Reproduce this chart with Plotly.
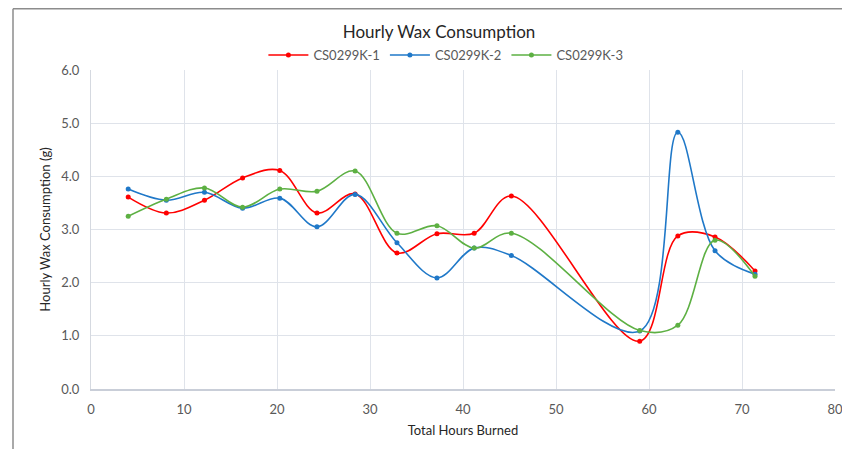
import plotly.graph_objects as go

hours = [4.0, 8.1, 12.2, 16.3, 20.3, 24.3, 28.4, 32.9, 37.2, 41.2, 45.2, 59.0, 63.1, 67.1, 71.4]
series_names = ["CS0299K-1", "CS0299K-2", "CS0299K-3"]
k1 = [3.61, 3.31, 3.55, 3.97, 4.11, 3.31, 3.67, 2.56, 2.92, 2.93, 3.63, 0.90, 2.88, 2.86, 2.22]
k2 = [3.76, 3.55, 3.70, 3.40, 3.59, 3.05, 3.66, 2.75, 2.09, 2.65, 2.51, 1.09, 4.83, 2.60, 2.16]
k3 = [3.25, 3.57, 3.78, 3.42, 3.76, 3.72, 4.10, 2.93, 3.07, 2.65, 2.93, 1.10, 1.20, 2.80, 2.12]
colors = ["#FF0000", "#1F78C8", "#5DB043"]

fig = go.Figure()
for name, vals, c in zip(series_names, [k1, k2, k3], colors):
    fig.add_trace(go.Scatter(
        x=hours, y=vals, name=name, mode="lines+markers",
        line=dict(color=c, width=1.6, shape="spline", smoothing=1.0),
        marker=dict(color=c, size=5),
    ))

# page body has an 8px margin, so the figure is offset by (8, 8)
W, H = 842, 441
L, R, T, B = 83, 15, 62, 60
pw, ph = W - L - R, H - T - B

# outer chart frame (left and top edges visible; right/bottom run off the picture)
fig.add_shape(type="line", xref="paper", yref="paper",
              x0=(5 - L) / pw, x1=(5 - L) / pw, y0=-(B + 10) / ph, y1=(ph + T - 0.8) / ph,
              line=dict(color="#8c8c8c", width=1.5), layer="below")
fig.add_shape(type="line", xref="paper", yref="paper",
              x0=(5 - L) / pw, x1=(W + 50 - L) / pw, y0=(ph + T - 0.8) / ph, y1=(ph + T - 0.8) / ph,
              line=dict(color="#8c8c8c", width=1.5), layer="below")

font_fam = "Lato, 'Open Sans', sans-serif"
fig.update_layout(
    width=W, height=H,
    margin=dict(l=L, r=R, t=T, b=B, autoexpand=False),
    paper_bgcolor="white", plot_bgcolor="white",
    font=dict(family=font_fam, color="#595959", size=13),
    title=dict(text="Hourly Wax Consumption", x=431 / W, xanchor="center", y=0.945, yanchor="middle",
               font=dict(size=17, color="#262626", family=font_fam)),
    legend=dict(orientation="h", x=0.477, xanchor="center", y=1.047, yanchor="middle",
                font=dict(size=13, color="#595959"), itemwidth=40, traceorder="normal"),
    showlegend=True,
    xaxis=dict(range=[0, 80], dtick=10, showgrid=True, gridcolor="#dfe3ea", gridwidth=1,
               zeroline=False, showline=True, linecolor="#c9ced8", linewidth=1.5,
               ticks="", ticklabelstandoff=8, automargin=False,
               tickfont=dict(size=13, color="#595959"),
               title=dict(text="Total Hours Burned", font=dict(size=13, color="#262626"), standoff=10)),
    yaxis=dict(range=[0, 6], dtick=1, tickformat=".1f", showgrid=True, gridcolor="#dfe3ea", gridwidth=1,
               zeroline=False, showline=True, linecolor="#d5d9e0", linewidth=1,
               ticks="", ticklabelstandoff=8, automargin=False,
               tickfont=dict(size=13, color="#595959"),
               title=dict(text="Hourly Wax Consumption (g)", font=dict(size=13, color="#262626"), standoff=7)),
)

fig.write_html("out.html")
